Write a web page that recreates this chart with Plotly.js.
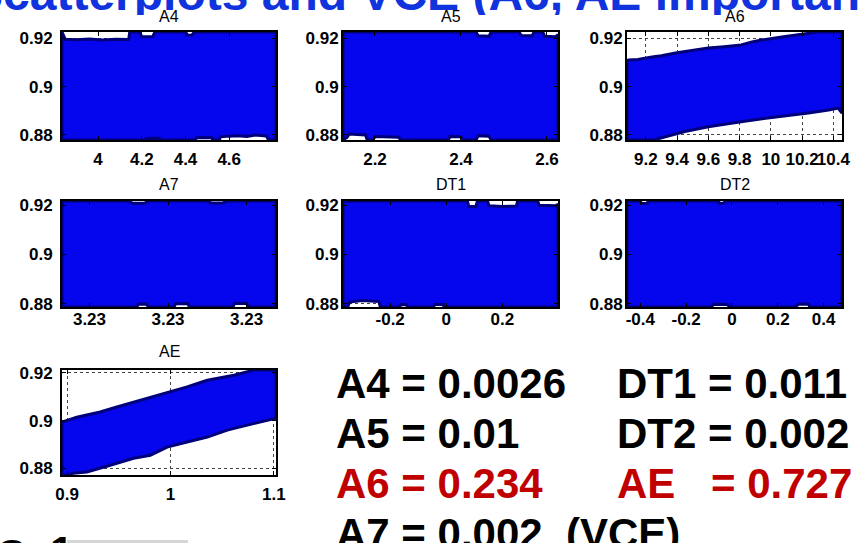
<!DOCTYPE html>
<html><head><meta charset="utf-8">
<script src="https://cdn.plot.ly/plotly-3.0.1.min.js"></script>
<style>html,body{margin:0;padding:0;background:#fff;}#chart{width:863px;height:543px;}</style>
</head><body><div id="chart"></div>
<script>
// ---- data ----
const panelNames = ['A4', 'A5', 'A6', 'A7', 'DT1', 'DT2', 'AE'];
const yTickVals = [0.88, 0.9, 0.92];
const a4Ticks = [4, 4.2, 4.4, 4.6];
const a5Ticks = [2.2, 2.4, 2.6];
const a6Ticks = [9.2, 9.4, 9.6, 9.8, 10, 10.2, 10.4];
const a7Ticks = [3.2296, 3.23, 3.2304];
const a7TickText = ['3.23', '3.23', '3.23'];
const dt1Ticks = [-0.2, 0, 0.2];
const dt1TickText = ['-0.2', '0', '0.2'];
const dt2Ticks = [-0.4, -0.2, 0, 0.2, 0.4];
const dt2TickText = ['-0.4', '-0.2', '0', '0.2', '0.4'];
const aeTicks = [0.9, 1, 1.1];
const aeTickText = ['0.9', '1', '1.1'];

// outlines of the scatter clouds (x, y)
const a4CloudX = [3.835,3.835,3.85,3.90,3.96,4.02,4.08,4.14,4.145,4.19,4.20,4.25,4.26,4.40,4.41,4.43,4.44,4.814,4.814,4.78,4.77,4.72,4.68,4.64,4.60,4.56,4.555,4.525,4.52,4.48,4.45,4.445,4.285,4.28,4.25,4.22,4.215,3.835];
const a4CloudY = [0.8779,0.9226,0.9196,0.9194,0.9197,0.9193,0.9196,0.9195,0.9226,0.9226,0.9206,0.9207,0.9226,0.9226,0.9213,0.9214,0.9226,0.9226,0.8779,0.8779,0.8795,0.8800,0.8794,0.8797,0.8795,0.8792,0.8779,0.8779,0.8789,0.8790,0.8788,0.8779,0.8779,0.8786,0.8787,0.8785,0.8779,0.8779];
const a5CloudX = [2.1256,2.1256,2.435,2.44,2.465,2.47,2.535,2.54,2.565,2.57,2.59,2.595,2.62,2.6256,2.6256,2.47,2.465,2.44,2.435,2.405,2.40,2.375,2.37,2.26,2.255,2.20,2.195,2.182,2.178,2.14,2.135,2.1256];
const a5CloudY = [0.8779,0.9226,0.9226,0.9210,0.9208,0.9226,0.9226,0.9212,0.9210,0.9226,0.9226,0.9208,0.9206,0.9215,0.8779,0.8779,0.8795,0.8797,0.8779,0.8779,0.8792,0.8794,0.8779,0.8779,0.8790,0.8793,0.8779,0.8779,0.8800,0.8804,0.8790,0.8779];
const a6CloudX = [9.08,9.08,9.09,9.15,9.24,9.30,9.39,9.45,9.60,9.70,9.81,9.88,9.94,10.07,10.15,10.24,10.30,10.455,10.455,10.43,10.37,10.24,10.13,9.98,9.81,9.60,9.45,9.30,9.25,9.08];
const a6CloudY = [0.8779,0.9105,0.9110,0.9112,0.9123,0.9128,0.9139,0.9145,0.9160,0.9165,0.9172,0.9185,0.9193,0.9205,0.9212,0.9222,0.9226,0.9226,0.8890,0.8911,0.8903,0.8891,0.8883,0.8870,0.8855,0.8834,0.8814,0.8788,0.8779,0.8779];
const a7CloudX = [3.22946,3.22946,3.22980,3.22982,3.22988,3.22990,3.23020,3.23022,3.23028,3.23030,3.23055,3.23055,3.23041,3.23040,3.23034,3.23033,3.23011,3.23010,3.23004,3.23003,3.22990,3.22989,3.22985,3.22984,3.22946];
const a7CloudY = [0.8786,0.9218,0.9218,0.9209,0.9209,0.9218,0.9218,0.9210,0.9210,0.9218,0.9218,0.8786,0.8786,0.8800,0.8801,0.8786,0.8786,0.8799,0.8800,0.8786,0.8786,0.8798,0.8797,0.8786,0.8786];
const dt1CloudX = [-0.368,-0.368,0.075,0.08,0.105,0.111,0.147,0.152,0.20,0.25,0.254,0.326,0.33,0.39,0.398,0.398,-0.008,-0.012,-0.04,-0.047,-0.138,-0.142,-0.162,-0.166,-0.235,-0.24,-0.30,-0.345,-0.351,-0.368];
const dt1CloudY = [0.8786,0.9218,0.9218,0.9197,0.9195,0.9218,0.9218,0.9199,0.9196,0.9198,0.9218,0.9218,0.9201,0.9199,0.9205,0.8786,0.8786,0.8797,0.8796,0.8786,0.8786,0.8795,0.8796,0.8786,0.8786,0.8808,0.8812,0.8806,0.8786,0.8786];
const dt2CloudX = [-0.458,-0.458,-0.40,-0.395,-0.37,-0.365,-0.06,-0.055,-0.035,-0.03,0.48,0.48,0.34,0.333,0.29,0.276,-0.01,-0.02,-0.08,-0.09,-0.458];
const dt2CloudY = [0.8786,0.9218,0.9218,0.9208,0.9209,0.9218,0.9218,0.9210,0.9209,0.9218,0.9218,0.8786,0.8786,0.8798,0.8797,0.8786,0.8786,0.8796,0.8797,0.8786,0.8786];
const aeCloudX = [0.895,0.895,0.9093,0.9319,0.9481,0.9707,0.9967,1.016,1.0355,1.0613,1.0807,1.102,1.102,1.0937,1.0743,1.0549,1.0355,1.016,0.9967,0.9804,0.9642,0.9416,0.9319,0.919,0.906,0.90,0.895];
const aeCloudY = [0.8772,0.8994,0.9014,0.9036,0.9057,0.9085,0.9115,0.9141,0.9169,0.9190,0.9212,0.9212,0.9010,0.9002,0.8981,0.8960,0.8931,0.8910,0.8889,0.8855,0.8842,0.8813,0.8800,0.8785,0.8779,0.8772,0.8772];

// variance-based sensitivity (VCE) values
const vceNames = ['A4', 'A5', 'A6', 'A7', 'DT1', 'DT2', 'AE'];
const vceValues = ['0.0026', '0.01', '0.234', '0.002', '0.011', '0.002', '0.727'];
const vceImportant = ['A6', 'AE'];

const titleText = 'Scatterplots and VCE (A6, AE important)';

// ---- layout ----
const W = 863, H = 543;
const FONT = 'Liberation Sans, Arial, Helvetica, sans-serif';
const colPx = [[62, 276], [343, 558], [627, 842]];
const rowPx = [[32, 140], [201, 307], [370, 475]];
const rowYRange = [[0.8779, 0.9226], [0.8786, 0.9218], [0.8772, 0.9212]];
const xStand = [3, -4, 3];
const yStand = [4, -1, -1];

const panels = [
  {col:0, row:0, xr:[3.835, 4.814], tv:a4Ticks, tt:null, cx:a4CloudX, cy:a4CloudY},
  {col:1, row:0, xr:[2.1256, 2.6256], tv:a5Ticks, tt:null, cx:a5CloudX, cy:a5CloudY},
  {col:2, row:0, xr:[9.08, 10.455], tv:a6Ticks, tt:null, cx:a6CloudX, cy:a6CloudY},
  {col:0, row:1, xr:[3.22946, 3.23055], tv:a7Ticks, tt:a7TickText, cx:a7CloudX, cy:a7CloudY},
  {col:1, row:1, xr:[-0.368, 0.398], tv:dt1Ticks, tt:dt1TickText, cx:dt1CloudX, cy:dt1CloudY},
  {col:2, row:1, xr:[-0.458, 0.48], tv:dt2Ticks, tt:dt2TickText, cx:dt2CloudX, cy:dt2CloudY},
  {col:0, row:2, xr:[0.895, 1.102], tv:aeTicks, tt:aeTickText, cx:aeCloudX, cy:aeCloudY}
];
const titleCenterY = [16, 184, 351];

const data = [];
const layout = {
  width: W, height: H,
  margin: {l:0, r:0, t:0, b:0},
  paper_bgcolor: '#ffffff', plot_bgcolor: '#ffffff',
  showlegend: false,
  font: {family: FONT, color: '#000'},
  annotations: [], shapes: []
};

// title first (index 0)
layout.annotations.push({
  xref:'paper', yref:'paper', x:0.5, y:1 - 22/H, xanchor:'center', yanchor:'bottom',
  text: '<b>' + titleText + '</b>', showarrow:false,
  font:{family:FONT, size:48, color:'#1133dd'}
});

panels.forEach((p, i) => {
  const s = i === 0 ? '' : String(i + 1);
  const c = colPx[p.col], r = rowPx[p.row];
  const axCommon = {
    showline:true, linecolor:'#000', linewidth:2, mirror:'ticks',
    ticks:'inside', ticklen:4, tickcolor:'#000', tickwidth:1,
    showgrid:true, gridcolor:'#444', griddash:'dot', gridwidth:1,
    zeroline:false, tickangle:0,
    tickfont:{family:FONT, size:17, color:'#000', weight:'bold'}
  };
  const xa = Object.assign({}, axCommon, {
    domain:[c[0]/W, c[1]/W], range:p.xr, anchor:'y'+s,
    tickmode:'array', tickvals:p.tv, ticklabelstandoff:xStand[p.row]
  });
  if (p.tt) xa.ticktext = p.tt;
  const ya = Object.assign({}, axCommon, {
    domain:[1 - r[1]/H, 1 - r[0]/H], range:rowYRange[p.row], anchor:'x'+s,
    tickmode:'array', tickvals:yTickVals, ticklabelstandoff:yStand[p.col]
  });
  layout['xaxis'+s] = xa;
  layout['yaxis'+s] = ya;
  data.push({
    type:'scatter', mode:'lines', x:p.cx, y:p.cy, xaxis:'x'+s, yaxis:'y'+s,
    fill:'toself', fillcolor:'#0505ee', line:{color:'#00007a', width:3},
    hoverinfo:'skip'
  });
  layout.annotations.push({
    xref:'paper', yref:'paper', x:(c[0]+c[1])/2/W, y:1 - titleCenterY[p.row]/H,
    xanchor:'center', yanchor:'middle', showarrow:false,
    text: panelNames[i], font:{family:FONT, size:16, color:'#000'}
  });
});

// VCE text block
const vceLeft = {A4:334, A5:334, A6:334, A7:334, DT1:615, DT2:615, AE:615};
const vceRow = {A4:383, A5:433, A6:483, A7:533, DT1:383, DT2:433, AE:483};
vceNames.forEach((n, i) => {
  const red = vceImportant.includes(n);
  const col = red ? '#c00000' : '#000000';
  const f = {family:FONT, size:42, color:col};
  if (n === 'AE') {
    layout.annotations.push({xref:'paper', yref:'paper', x:vceLeft[n]/W, y:1 - vceRow[n]/H,
      xanchor:'left', yanchor:'middle', showarrow:false, text:'<b>' + n + '</b>', font:f});
    layout.annotations.push({xref:'paper', yref:'paper', x:709/W, y:1 - vceRow[n]/H,
      xanchor:'left', yanchor:'middle', showarrow:false, text:'<b>= ' + vceValues[i] + '</b>', font:f});
  } else {
    let t = n + ' = ' + vceValues[i];
    if (n === 'A7') t += '\u00a0\u00a0(VCE)';
    layout.annotations.push({xref:'paper', yref:'paper', x:vceLeft[n]/W, y:1 - vceRow[n]/H,
      xanchor:'left', yanchor:'middle', showarrow:false, text:'<b>' + t + '</b>', font:f});
  }
});

// partial footer elements at the bottom-left
layout.shapes.push({type:'rect', xref:'paper', yref:'paper', x0:67/W, x1:188/W, y0:1 - 548/H, y1:1 - 540/H,
  fillcolor:'#d6d6d6', line:{width:0}, layer:'below'});
layout.annotations.push({xref:'paper', yref:'paper', x:-4/W, y:1 - 554/H, xanchor:'left', yanchor:'middle',
  showarrow:false, text:'<b>S</b>', font:{family:FONT, size:42, color:'#000'}});
layout.annotations.push({xref:'paper', yref:'paper', x:48/W, y:1 - 551/H, xanchor:'left', yanchor:'middle',
  showarrow:false, text:'<b>1</b>', font:{family:FONT, size:42, color:'#000'}});

Plotly.newPlot('chart', data, layout, {staticPlot:true, displayModeBar:false}).then(gd => {
  // the slide title is partly hidden behind the figure: clip it at y = 15px
  const ann = gd.querySelector('g.annotation[data-index="0"]');
  if (!ann) return;
  const svg = ann.ownerSVGElement;
  const NS = 'http://www.w3.org/2000/svg';
  let defs = svg.querySelector('defs');
  if (!defs) { defs = document.createElementNS(NS, 'defs'); svg.insertBefore(defs, svg.firstChild); }
  const cp = document.createElementNS(NS, 'clipPath');
  cp.setAttribute('id', 'titleclip');
  cp.setAttribute('clipPathUnits', 'userSpaceOnUse');
  const rect = document.createElementNS(NS, 'rect');
  rect.setAttribute('x', '-50'); rect.setAttribute('y', '-100');
  rect.setAttribute('width', String(W + 100)); rect.setAttribute('height', '115');
  cp.appendChild(rect); defs.appendChild(cp);
  ann.setAttribute('clip-path', 'url(#titleclip)');
});
</script></body></html>
